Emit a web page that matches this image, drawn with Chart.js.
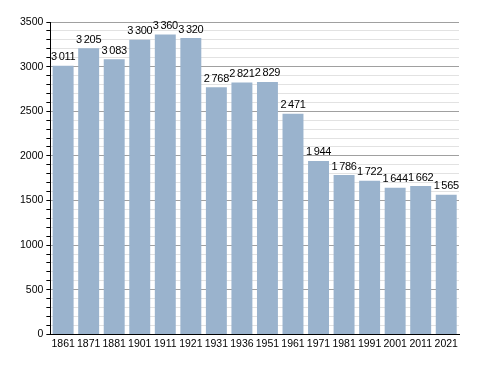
<!DOCTYPE html>
<html>
<head>
<meta charset="utf-8">
<script src="https://cdn.jsdelivr.net/npm/chart.js@4/dist/chart.umd.min.js"></script>
<style>
  html, body { margin: 0; padding: 0; background: #ffffff; }
  #wrap { width: 488px; height: 373px; }
</style>
</head>
<body>
<div id="wrap"><canvas id="c" width="488" height="373"></canvas></div>
<script>
const years = ["1861","1871","1881","1901","1911","1921","1931","1936","1951","1961","1971","1981","1991","2001","2011","2021"];
const population = [3011, 3205, 3083, 3300, 3360, 3320, 2768, 2821, 2829, 2471, 1944, 1786, 1722, 1644, 1662, 1565];
const yMax = 3500;
const yStep = 100;
const yLabelStep = 500;

function fmt(v) {
  const s = String(v);
  return s.length > 3 ? s.slice(0, s.length - 3) + "\u2009" + s.slice(-3) : s;
}

const valueLabels = {
  id: "valueLabels",
  afterDatasetsDraw(chart) {
    const ctx = chart.ctx;
    const meta = chart.getDatasetMeta(0);
    ctx.save();
    ctx.font = "11px 'Liberation Sans', Arial, sans-serif";
    ctx.fillStyle = "#000";
    ctx.textAlign = "center";
    ctx.textBaseline = "bottom";
    try { ctx.letterSpacing = "-0.3px"; } catch (e) {}
    meta.data.forEach((bar, i) => {
      ctx.fillText(fmt(population[i]), bar.x, bar.y - 3);
    });
    ctx.restore();
  }
};

new Chart(document.getElementById("c"), {
  type: "bar",
  data: {
    labels: years,
    datasets: [{
      data: population,
      backgroundColor: "#9ab3cd",
      borderWidth: 0,
      barPercentage: 0.82,
      categoryPercentage: 1.0
    }]
  },
  options: {
    responsive: false,
    animation: false,
    devicePixelRatio: 1,
    layout: { padding: { left: 17, right: 29, top: 22, bottom: 20 } },
    plugins: { legend: { display: false }, tooltip: { enabled: false } },
    scales: {
      x: {
        grid: { display: false, drawTicks: false },
        border: { color: "#000", width: 1 },
        ticks: {
          color: "#000",
          font: { family: "'Liberation Sans', Arial, sans-serif", size: 10.5 },
          maxRotation: 0, autoSkip: false, padding: 3
        }
      },
      y: {
        min: 0, max: yMax,
        border: { color: "#000", width: 1 },
        grid: {
          color: (c) => (c.tick && c.tick.value % yLabelStep === 0) ? "#a0a0a0" : "#e2e2e2",
          tickColor: "#000",
          tickLength: 4,
          drawOnChartArea: true
        },
        ticks: {
          stepSize: yStep,
          autoSkip: false,
          color: "#000",
          font: { family: "'Liberation Sans', Arial, sans-serif", size: 10.5 },
          padding: 3,
          callback: (v) => (v % yLabelStep === 0 ? String(v) : "")
        }
      }
    }
  },
  plugins: [valueLabels]
});
</script>
</body>
</html>
